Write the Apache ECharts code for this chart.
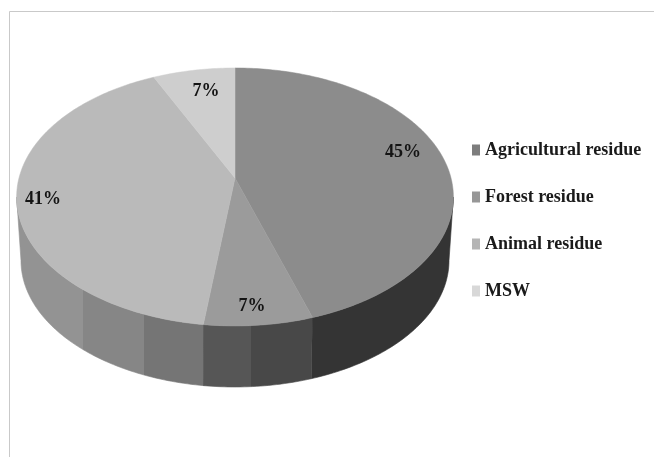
<!DOCTYPE html>
<html><head><meta charset="utf-8">
<style>html,body{margin:0;padding:0;background:#fff}#c{width:654px;height:457px}</style>
<script src="https://cdn.jsdelivr.net/npm/echarts@6/dist/echarts.min.js"></script>
</head><body><div id="c"></div>
<script>
const categories = ['Agricultural residue', 'Forest residue', 'Animal residue', 'MSW'];
const shares = [45, 7, 41, 7];
const topColors = ['#8c8c8c', '#9b9b9b', '#bababa', '#cecece'];
const legendColors = ['#7d7d7d', '#979797', '#b5b5b5', '#d8d8d8'];

// Projection of the round pie on the tilted plane
const cx = 235, cy = 178, a = 216, b = 126.2, k = 0.147;
const wallShrink = 0.98, wallDrop = 64;
const wallFrom = Math.acos(-k), wallTo = 2 * Math.PI - wallFrom;
function rimTop(t) {
  const u = Math.sin(t), v = Math.cos(t), d = 1 + k * v;
  return [cx + a * u / d, cy - b * v / d];
}
function rimBottom(t) {
  const p = rimTop(t);
  return [cx + wallShrink * (p[0] - cx), cy + wallShrink * (p[1] - cy) + wallDrop];
}
function arc(fn, t0, t1) {
  const n = Math.max(2, Math.ceil(Math.abs(t1 - t0) * 60)), pts = [];
  for (let i = 0; i <= n; i++) pts.push(fn(t0 + (t1 - t0) * i / n));
  return pts;
}
// Wall shading bands, left to right across the canvas
const W = 654;
const bandEdges = [0, 83, 144, 203, 251, 312, W];
const bandColors = ['#939393', '#868686', '#757575', '#565656', '#484848', '#343434'];
const wallStops = [];
bandColors.forEach((c, i) => {
  wallStops.push({offset: bandEdges[i] / W, color: c});
  wallStops.push({offset: bandEdges[i + 1] / W, color: c});
});
const wallFill = new echarts.graphic.LinearGradient(0, 0, W, 0, wallStops, true);

const labelAnchor = [[403, 152], [252, 306], [43, 199], [206, 91]];
const total = shares.reduce((s, v) => s + v, 0);
let running = 0;
const pieSeries = categories.map((name, i) => {
  const start = running; running += shares[i];
  return {
    type: 'custom', name, coordinateSystem: 'none', silent: true,
    itemStyle: {color: topColors[i]},
    data: [[start, shares[i]]],
    renderItem(params, api) {
      const t0 = api.value(0) / total * 2 * Math.PI;
      const t1 = (api.value(0) + api.value(1)) / total * 2 * Math.PI;
      const children = [];
      const w0 = Math.max(t0, wallFrom), w1 = Math.min(t1, wallTo);
      if (w1 > w0) {
        children.push({type: 'polygon', z2: 1,
          shape: {points: arc(rimTop, w0, w1).concat(arc(rimBottom, w1, w0))},
          style: {fill: wallFill, stroke: wallFill, lineWidth: 0.6}});
      }
      children.push({type: 'polygon', z2: 2,
        shape: {points: [[cx, cy]].concat(arc(rimTop, t0, t1))},
        style: {fill: topColors[i], stroke: topColors[i], lineWidth: 0.5}});
      children.push({type: 'text', z2: 3,
        style: {x: labelAnchor[i][0], y: labelAnchor[i][1], text: Math.round(api.value(1)) + '%',
          align: 'center', verticalAlign: 'middle', fill: '#141414',
          font: 'bold 18px "Liberation Serif"'}});
      return {type: 'group', children};
    }
  };
});

const chart = echarts.init(document.getElementById('c'), null, {renderer: 'canvas'});
chart.setOption({
  animation: false,
  backgroundColor: '#fff',
  graphic: [{type: 'polyline', silent: true, z: 0,
    shape: {points: [[9.5, 457], [9.5, 11.5], [654, 11.5]]},
    style: {stroke: '#c9c9c9', lineWidth: 1, fill: null}}],
  legend: {
    orient: 'vertical', left: 467, top: 136, itemWidth: 8, itemHeight: 11, itemGap: 29, icon: 'rect',
    selectedMode: false,
    textStyle: {fontFamily: 'Liberation Serif', fontWeight: 'bold', fontSize: 18, color: '#1a1a1a', height: 17, lineHeight: 17},
    data: categories.map((name, i) => ({name, itemStyle: {color: legendColors[i]}}))
  },
  series: pieSeries
});
</script></body></html>
